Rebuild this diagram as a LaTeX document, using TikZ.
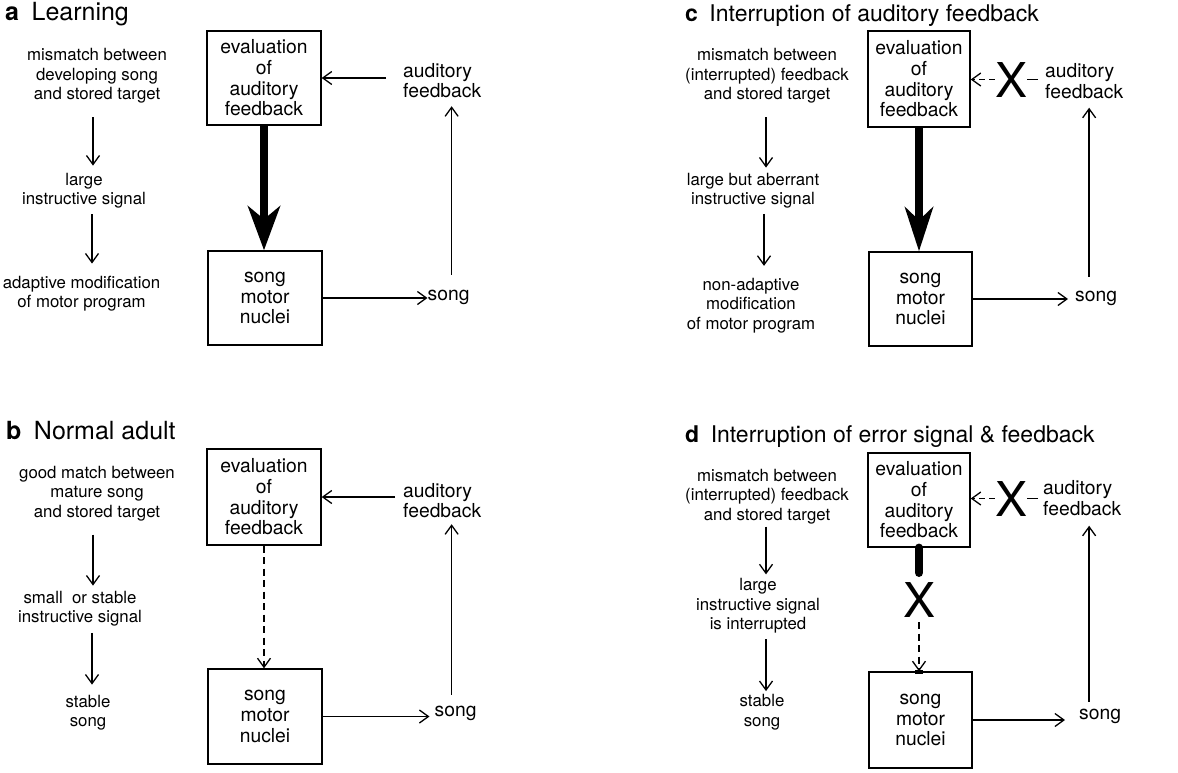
\documentclass[tikz,border=0pt]{standalone}
\usepackage{fontspec}
\setmainfont{TeX Gyre Heros}
\usetikzlibrary{arrows.meta}
\newcommand\ttlfont{\fontsize{25}{28}\selectfont}
\newcommand\ttlsmall{\fontsize{23}{26}\selectfont}
\newcommand\labfont{\fontsize{16.8}{19.5}\selectfont}
\newcommand\boxfont{\fontsize{19.3}{20.7}\selectfont}
\newcommand\crossfont{\fontsize{48}{48}\selectfont}
\begin{document}
\begin{tikzpicture}[x=1pt, y=-1pt,
    ttl/.style={anchor=base west, inner sep=0pt},
    lab/.style={align=center, inner sep=0pt, font=\labfont},
    lbl/.style={align=left, inner sep=0pt, font=\boxfont, anchor=west},
    stage/.style={draw, line width=1.4pt, align=center, inner sep=0pt, font=\boxfont},
    wide/.style={minimum width=114pt},
    narrow/.style={minimum width=102pt},
    cross/.style={inner sep=0pt, font=\crossfont},
    arr/.style={line width=1.3pt, -{Straight Barb[length=9pt,width=13pt]}},
    flat/.style={line width=1.3pt},
    broken/.style={dash pattern=on 7pt off 4.5pt},
    big/.style={line width=8.3pt, -{Stealth[length=44pt,width=32pt,inset=13pt]}},
    stub/.style={line width=8.3pt, line cap=round},
  ]
  \useasboundingbox (0,0) rectangle (1178,772);

  % a: learning
  \node[ttl, font=\ttlfont] (ttlA) at (5,20) {\textbf{a}\hspace{0.5em}Learning};
  \node[lab] (misA) at (97,76) {mismatch between\\developing song\\and stored target};
  \node[lab] (sigA) at (84,190.5) {large\\instructive signal};
  \node[lab] (modA) at (81.5,293.5) {adaptive modification\\of motor program};
  \node[stage, wide, minimum height=94pt] (evalA) at (264,78) {evaluation\\of\\auditory\\feedback};
  \node[stage, wide, minimum height=94pt] (songA) at (265,298) {song\\motor\\nuclei};
  \node[lbl] (sgA) at (427.5,297) {song};
  \node[lbl] (fbA) at (403,80.5) {auditory\\feedback};
  \draw[arr, shorten <=13.5pt, shorten >=7pt] ([xshift=-4pt]misA.south) -- ([xshift=-4pt]misA.south |- sigA.north);
  \draw[arr, shorten <=6pt, shorten >=12pt] ([xshift=8pt]sigA.south) -- ([xshift=8pt]sigA.south |- modA.north);
  \draw[big] (evalA.south) -- (evalA.south |- songA.north);
  \draw[arr] (songA.east) -- (songA.east -| sgA.west);
  \draw[arr, shorten <=15pt, shorten >=8pt] ([xshift=3pt]sgA.north) -- ([xshift=3pt]sgA.north |- fbA.south);
  \draw[arr] ([xshift=-17pt]fbA.west |- evalA.east) -- (evalA.east);

  % b: normal adult
  \node[ttl, font=\ttlfont] (ttlB) at (6,439) {\textbf{b}\hspace{0.5em}Normal adult};
  \node[lab] (misB) at (97,493.5) {good match between\\mature song\\and stored target};
  \node[lab] (sigB) at (80,608.5) {small\ \ or stable\\instructive signal};
  \node[lab] (stabB) at (88,712.5) {stable\\song};
  \node[stage, wide, minimum height=96pt] (evalB) at (264,497) {evaluation\\of\\auditory\\feedback};
  \node[stage, wide, minimum height=95pt] (songB) at (265,716.5) {song\\motor\\nuclei};
  \node[lbl] (sgB) at (434.5,713) {song};
  \node[lbl] (fbB) at (403,500.5) {auditory\\feedback};
  \draw[arr, shorten <=13.5pt, shorten >=5pt] ([xshift=-4pt]misB.south) -- ([xshift=-4pt]misB.south |- sigB.north);
  \draw[arr, shorten <=6.5pt, shorten >=10pt] ([xshift=12pt]sigB.south) -- ([xshift=12pt]sigB.south |- stabB.north);
  \draw[arr, broken] (evalB.south) -- (evalB.south |- songB.north);
  \draw[arr, shorten >=5pt] (songB.east) -- (songB.east -| sgB.west);
  \draw[arr, shorten <=11pt, shorten >=6pt] ([xshift=-4pt]sgB.north) -- ([xshift=-4pt]sgB.north |- fbB.south);
  \draw[arr] ([xshift=-8pt]fbB.west |- evalB.east) -- (evalB.east);

  % c: interruption of auditory feedback
  \node[ttl, font=\ttlsmall] (ttlC) at (685,21) {\textbf{c}\hspace{0.5em}Interruption of auditory feedback};
  \node[lab] (misC) at (767,76) {mismatch between\\(interrupted) feedback\\and stored target};
  \node[lab] (sigC) at (753,190.5) {large but aberrant\\instructive signal};
  \node[lab] (modC) at (751,305.5) {non-adaptive\\modification\\of motor program};
  \node[stage, narrow, minimum height=96pt] (evalC) at (919,79) {evaluation\\of\\auditory\\feedback};
  \node[stage, narrow, minimum width=103pt, minimum height=94pt] (songC) at (920.5,299) {song\\motor\\nuclei};
  \node[lbl] (sgC) at (1075,298) {song};
  \node[lbl] (fbC) at (1045,81) {auditory\\feedback};
  \node[cross] (xC) at (1011,79.5) {X};
  \draw[arr, shorten <=13.5pt, shorten >=5pt] ([xshift=-1pt]misC.south) -- ([xshift=-1pt]misC.south |- sigC.north);
  \draw[arr, shorten <=5.5pt, shorten >=12pt] ([xshift=11pt]sigC.south) -- ([xshift=11pt]sigC.south |- modC.north);
  \draw[big, -{Stealth[length=44pt,width=28pt,inset=13pt]}] (evalC.south) -- (evalC.south |- songC.north);
  \draw[arr, shorten >=7pt] (songC.east) -- (songC.east -| sgC.west);
  \draw[arr, shorten <=14pt, shorten >=9pt] ([xshift=-7pt]sgC.north) -- ([xshift=-7pt]sgC.north |- fbC.south);
  \draw[flat] ([xshift=-7pt]fbC.west |- xC) -- (xC);
  \draw[arr, dash pattern=on 6pt off 4pt] (xC.west) -- (xC.west -| evalC.east);

  % d: interruption of error signal and feedback
  \node[ttl, font=\ttlsmall] (ttlD) at (685,442) {\textbf{d}\hspace{0.5em}Interruption of error signal \& feedback};
  \node[lab] (misD) at (767,496.5) {mismatch between\\(interrupted) feedback\\and stored target};
  \node[lab] (sigD) at (758,606) {large\\instructive signal\\is interrupted};
  \node[lab] (stabD) at (762,712) {stable\\song};
  \node[stage, narrow, minimum height=94pt] (evalD) at (919,500) {evaluation\\of\\auditory\\feedback};
  \node[stage, narrow, minimum width=103pt, minimum height=96pt] (songD) at (920.5,720) {song\\motor\\nuclei};
  \node[lbl] (sgD) at (1079,716) {song};
  \node[lbl] (fbD) at (1043,498) {auditory\\feedback};
  \node[cross] (xD) at (1011,498.5) {X};
  \node[cross] (cutD) at (919,599.5) {X};
  \draw[arr, shorten <=2.5pt, shorten >=4pt] ([xshift=-1pt]misD.south) -- ([xshift=-1pt]misD.south |- sigD.north);
  \draw[arr, shorten <=5.5pt, shorten >=3pt] ([xshift=8pt]sigD.south) -- ([xshift=8pt]sigD.south |- stabD.north);
  \draw[stub] (evalD.south) -- ([yshift=9pt]cutD.north);
  \draw[arr, broken] ([yshift=-5pt]cutD.south) -- (cutD.south |- songD.north);
  \fill ([xshift=-5.5pt,yshift=1pt]songD.north) rectangle ([xshift=2.5pt,yshift=-3pt]songD.north);
  \draw[arr, shorten >=14pt] (songD.east) -- (songD.east -| sgD.west);
  \draw[arr, shorten <=7pt, shorten >=10pt] ([xshift=-11pt]sgD.north) -- ([xshift=-11pt]sgD.north |- fbD.south);
  \draw[flat] ([xshift=-5pt]fbD.west |- xD) -- (xD);
  \draw[arr, dash pattern=on 6pt off 4pt] (xD.west) -- (xD.west -| evalD.east);
\end{tikzpicture}
\end{document}
